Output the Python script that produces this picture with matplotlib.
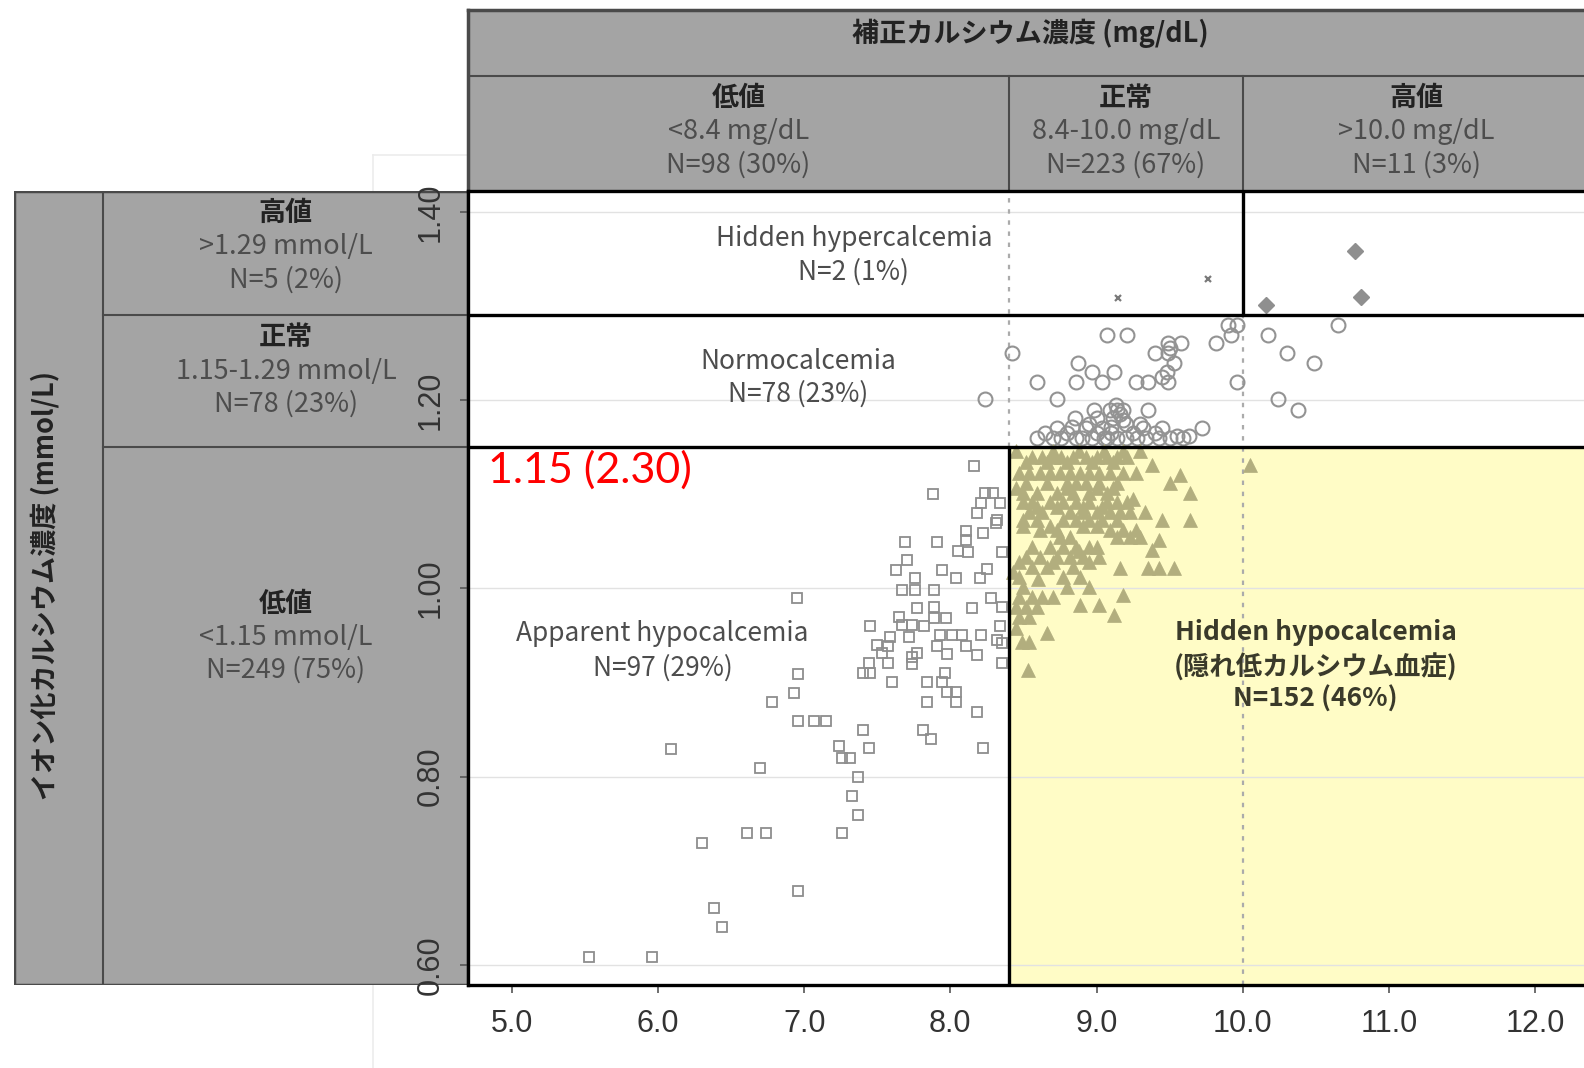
import matplotlib.pyplot as plt
from matplotlib.patches import Rectangle

plt.rcParams['font.family'] = ['Noto Sans CJK JP', 'DejaVu Sans']

# cut-offs: corrected Ca (mg/dL) and ionized Ca (mmol/L)
ca_low, ca_high = 8.4, 10.0
ica_low, ica_high = 1.15, 1.29

x_ticks = [5.0, 6.0, 7.0, 8.0, 9.0, 10.0, 11.0, 12.0]
y_ticks = [0.60, 0.80, 1.00, 1.20, 1.40]

col_titles = ['低値', '正常', '高値']
col_ranges = ['<8.4 mg/dL', '8.4-10.0 mg/dL', '>10.0 mg/dL']
col_counts = ['N=98 (30%)', 'N=223 (67%)', 'N=11 (3%)']
row_titles = ['高値', '正常', '低値']
row_ranges = ['>1.29 mmol/L', '1.15-1.29 mmol/L', '<1.15 mmol/L']
row_counts = ['N=5 (2%)', 'N=78 (23%)', 'N=249 (75%)']

# apparent hypocalcemia (squares)
sq_x = [8.16, 7.88, 8.24, 8.29, 8.21, 8.34, 8.31, 8.22, 8.11, 8.11, 8.12, 7.69, 7.91, 8.35,
        7.63, 7.94, 8.04, 8.25, 8.20, 7.76, 7.67, 7.76, 7.89, 7.77, 7.89, 8.15, 8.35, 7.65,
        7.89, 7.97, 7.74, 7.67, 7.45, 8.34, 7.59, 7.72, 7.93, 8.01, 8.08, 8.21, 7.91, 8.11,
        7.57, 7.53, 7.77, 7.74, 8.18, 8.35, 7.44, 7.57, 7.74, 8.35, 7.40, 7.45, 7.96, 7.84,
        7.94, 7.98, 8.04, 7.84, 8.04, 8.18, 7.40, 7.81, 7.87, 7.24, 7.44, 8.22,
        6.95, 6.96, 6.93, 6.78, 6.96, 7.07, 7.15, 6.09, 7.26, 7.31, 6.70, 7.37, 7.33, 7.37,
        6.61, 6.74, 7.26, 6.30, 6.96, 6.38, 6.44, 5.53, 5.96, 8.32, 8.32,
        7.50, 7.82, 8.05, 8.18, 7.60, 8.28, 7.98, 7.70]
sq_y = [1.130, 1.100, 1.101, 1.101, 1.091, 1.091, 1.069, 1.059, 1.061, 1.051, 1.039, 1.049,
        1.049, 1.039, 1.020, 1.020, 1.011, 1.021, 1.011, 1.011, 0.998, 0.998, 0.998, 0.979,
        0.980, 0.979, 0.980, 0.970, 0.969, 0.969, 0.961, 0.961, 0.960, 0.960, 0.948, 0.948,
        0.950, 0.950, 0.950, 0.950, 0.939, 0.939, 0.939, 0.931, 0.931, 0.927, 0.929, 0.942,
        0.921, 0.921, 0.920, 0.921, 0.910, 0.910, 0.910, 0.901, 0.901, 0.890, 0.890, 0.879,
        0.879, 0.869, 0.850, 0.850, 0.840, 0.833, 0.830, 0.830,
        0.990, 0.909, 0.889, 0.879, 0.859, 0.859, 0.859, 0.829, 0.820, 0.820, 0.809, 0.800,
        0.779, 0.759, 0.740, 0.740, 0.740, 0.729, 0.678, 0.660, 0.640, 0.608, 0.608, 1.073,
        0.945, 0.940, 0.960, 1.040, 1.080, 0.900, 0.990, 0.930, 1.030]

# normocalcemia (circles)
ci_x = [8.24, 8.42, 8.59, 8.73, 8.87, 8.97, 8.86, 9.04, 9.12, 9.07, 9.21, 9.27, 9.35, 9.40,
        9.49, 9.58, 9.49, 9.53, 9.48, 9.49, 9.35, 9.09, 9.14, 9.18, 9.11, 9.18, 8.85, 9.00,
        8.73, 8.93, 9.04, 9.32, 9.72, 8.59, 8.76, 8.86, 8.97, 9.07, 9.14, 9.34, 9.43, 9.50,
        9.59, 9.82, 9.92, 9.90, 9.96, 9.96, 10.17, 10.30, 10.49, 10.24, 10.38, 10.65,
        8.80, 8.90, 9.00, 9.10, 9.20, 9.25, 9.40, 9.55, 9.13, 9.16, 8.95, 9.05, 8.70, 8.65,
        9.30, 9.45, 8.83, 9.10, 9.20, 9.63, 9.28, 8.98, 9.50, 9.45]
ci_y = [1.201, 1.250, 1.219, 1.201, 1.240, 1.230, 1.219, 1.219, 1.230, 1.269, 1.269, 1.219,
        1.219, 1.250, 1.261, 1.261, 1.250, 1.240, 1.230, 1.219, 1.190, 1.190, 1.190, 1.190,
        1.181, 1.179, 1.181, 1.181, 1.170, 1.170, 1.170, 1.170, 1.170, 1.160, 1.160, 1.160,
        1.160, 1.160, 1.160, 1.160, 1.160, 1.160, 1.160, 1.261, 1.269, 1.280, 1.280, 1.219,
        1.269, 1.250, 1.240, 1.201, 1.190, 1.280,
        1.165, 1.160, 1.165, 1.165, 1.160, 1.165, 1.165, 1.162, 1.195, 1.185, 1.175, 1.160,
        1.160, 1.165, 1.175, 1.170, 1.172, 1.172, 1.175, 1.162, 1.160, 1.190, 1.255, 1.225]

# hidden hypocalcemia (triangles)
tri_x = [8.56, 8.63, 8.70, 8.76, 8.84, 8.93, 9.00, 9.07, 9.14, 9.21, 9.38,
         8.47, 8.54, 8.61, 8.68, 8.75, 8.82, 8.89, 8.95, 9.02, 9.09, 9.18, 9.27, 9.57,
         8.52, 8.66, 8.80, 8.86, 8.93, 9.02, 9.14, 9.50,
         8.50, 8.59, 8.73, 8.84, 8.95, 9.07, 9.64,
         8.50, 8.56, 8.68, 8.77, 8.86, 8.95, 9.07, 9.14, 9.21,
         8.54, 8.63, 8.82, 8.91, 9.00, 9.09, 9.16, 9.23, 9.33,
         8.50, 8.59, 8.77, 8.86, 8.95, 9.04, 9.14, 9.45, 9.64,
         8.61, 8.73, 9.09, 9.18, 9.27,
         8.75, 8.82, 9.14, 9.23, 9.30, 9.43,
         8.56, 8.68, 8.77, 8.86, 8.95, 9.00, 9.38,
         8.52, 8.61, 8.73, 8.82, 8.91, 9.02,
         8.56, 8.66, 8.84, 9.16, 9.35, 9.43, 9.53,
         8.47, 8.77, 8.89,
         8.50, 8.80, 8.95,
         8.47, 8.56, 8.63, 8.70, 9.18,
         8.45, 8.52, 8.59, 8.89, 9.02,
         8.47, 8.54, 9.12,
         8.66, 8.49, 8.54, 8.53, 10.05,
         8.52, 8.66, 8.80, 8.97, 9.11,
         8.59, 8.73, 8.91, 9.04,
         8.50, 8.68, 8.91, 9.00,
         8.47, 8.70, 8.95,
         8.45, 8.70, 8.88, 9.05, 9.18, 9.30,
         8.45, 8.80, 9.00, 9.11,
         8.43, 8.45, 8.60, 8.88, 9.25]
tri_y = [1.140] * 10 + [1.131] + \
        [1.123] * 12 + [1.120] + \
        [1.112] * 8 + \
        [1.101] * 7 + \
        [1.092] * 9 + \
        [1.081] * 9 + \
        [1.073] * 9 + \
        [1.062] * 5 + \
        [1.055] * 5 + [1.051] + \
        [1.044] * 6 + [1.041] + \
        [1.033] * 6 + \
        [1.023, 1.023, 1.023, 1.022, 1.022, 1.022, 1.022] + \
        [1.012] * 3 + \
        [1.001] * 3 + \
        [0.991, 0.991, 0.991, 0.991, 0.993] + \
        [0.980, 0.980, 0.980, 0.982, 0.982] + \
        [0.970, 0.970, 0.972] + \
        [0.953, 0.943, 0.943, 0.913, 1.131] + \
        [1.134] * 5 + \
        [1.087] * 4 + \
        [1.066] * 4 + \
        [1.028] * 3 + \
        [1.146] * 6 + \
        [1.107] * 4 + \
        [1.017, 0.958, 1.010, 1.040, 1.095]

# hidden hypercalcemia (x) and high/high (diamonds)
hx_x = [9.15, 9.76]
hx_y = [1.309, 1.329]
dm_x = [10.77, 10.81, 10.16]
dm_y = [1.359, 1.310, 1.301]

W, H = 1584, 1068
fig = plt.figure(figsize=(W / 100, H / 100), dpi=100)


def px_box(x0, y0, x1, y1):
    return [x0 / W, 1 - y1 / H, (x1 - x0) / W, (y1 - y0) / H]


xlim = (4.70, 12.335)
ylim = (0.5785, 1.4223)
head_gray = '#a4a4a4'
edge_gray = '#4a4a4a'
txt_gray = '#4d4d4d'
fs_head = 19.5
fs_in = 19

# faint frame behind the chart
fig.add_artist(plt.Line2D([373 / W, 373 / W], [0, 1 - 155 / H], color='#ececec', lw=1.2, zorder=-1))
fig.add_artist(plt.Line2D([373 / W, 468 / W], [1 - 155 / H, 1 - 155 / H], color='#ececec', lw=1.2,
                          zorder=-1))

# ---- top header (corrected calcium) ----
top = fig.add_axes(px_box(468, 10, 1584, 191))
top.set_xlim(xlim)
top.set_ylim(0, 1)
top.axis('off')
top.add_patch(Rectangle((xlim[0], 0), 10, 1, facecolor=head_gray, edgecolor='none'))
top.plot([xlim[0], xlim[1]], [1, 1], color=edge_gray, lw=2.5, clip_on=False)
top.plot([xlim[0], xlim[0]], [0, 1], color=edge_gray, lw=2.5, clip_on=False)
top.plot([xlim[0], xlim[1]], [0.635, 0.635], color=edge_gray, lw=1.5)
for xv in (ca_low, ca_high):
    top.plot([xv, xv], [0, 0.635], color=edge_gray, lw=1.5)
top.text(8.55, 0.873, '補正カルシウム濃度 (mg/dL)', ha='center', va='center',
         fontsize=fs_head, fontweight='bold', color='#222222')
col_x = [(xlim[0] + ca_low) / 2, (ca_low + ca_high) / 2, 11.19]
for cx, t, r, n in zip(col_x, col_titles, col_ranges, col_counts):
    top.text(cx, 0.514, t, ha='center', va='center', fontsize=fs_head, fontweight='bold',
             color='#222222')
    top.text(cx, 0.331, r, ha='center', va='center', fontsize=fs_head, color=txt_gray)
    top.text(cx, 0.144, n, ha='center', va='center', fontsize=fs_head, color=txt_gray)

# ---- left header (ionized calcium) ----
left = fig.add_axes(px_box(14, 191, 468, 985))
left.set_xlim(0, 1)
left.set_ylim(ylim)
left.axis('off')
left.add_patch(Rectangle((0, ylim[0]), 1, ylim[1] - ylim[0], facecolor=head_gray,
                         edgecolor=edge_gray, lw=2.5))
left.plot([0.196, 0.196], ylim, color=edge_gray, lw=1.5)
for yv in (ica_high, ica_low):
    left.plot([0.196, 1], [yv, yv], color=edge_gray, lw=1.5)
left.text(0.068, 1.0026, 'イオン化カルシウム濃度 (mmol/L)', rotation=90, ha='center', va='center',
          fontsize=19.5, fontweight='bold', color='#222222')
row_y = [(1.399, 1.363, 1.328), (1.267, 1.231, 1.196), (0.983, 0.948, 0.913)]
for (y1, y2, y3), t, r, n in zip(row_y, row_titles, row_ranges, row_counts):
    left.text(0.599, y1, t, ha='center', va='center', fontsize=fs_head, fontweight='bold',
              color='#222222')
    left.text(0.599, y2, r, ha='center', va='center', fontsize=fs_head, color=txt_gray)
    left.text(0.599, y3, n, ha='center', va='center', fontsize=fs_head, color=txt_gray)

# ---- scatter panel ----
ax = fig.add_axes(px_box(468, 191, 1584, 985))
ax.set_zorder(5)
ax.set_xlim(xlim)
ax.set_ylim(ylim)
ax.add_patch(Rectangle((ca_low, ylim[0]), xlim[1] - ca_low, ica_low - ylim[0],
                       facecolor='#fffcc6', edgecolor='none', zorder=0))
for yv in y_ticks:
    ax.axhline(yv, color='#e2e2e2', lw=1.0, zorder=0.5)

dot = dict(color='#ababab', lw=1.6, ls=(0, (2, 3)), zorder=1)
ax.plot([ca_low, ca_low], [ica_low, ylim[1]], **dot)
ax.plot([ca_high, ca_high], [ylim[0], ica_high], **dot)

ax.plot(sq_x, sq_y, 's', ms=7, mfc='none', mec='#8e8e8e', mew=1.3, zorder=3)
ax.plot(ci_x, ci_y, 'o', ms=10, mfc='none', mec='#939393', mew=1.5, zorder=3)
ax.plot(tri_x, tri_y, '^', ms=10, mfc='#b2ae7e', mec='#b2ae7e', mew=0.5, zorder=3)
ax.plot(hx_x, hx_y, 'x', ms=5, mec='#7a7a7a', mew=1.6, zorder=3)
ax.plot(dm_x, dm_y, 'D', ms=8, mfc='#8f8f8f', mec='#8f8f8f', zorder=3)

thick = dict(color='black', lw=2.4, zorder=4, solid_capstyle='butt')
ax.plot(xlim, [ica_high, ica_high], **thick)
ax.plot(xlim, [ica_low, ica_low], **thick)
ax.plot([ca_low, ca_low], [ylim[0], ica_low], **thick)
ax.plot([ca_high, ca_high], [ica_high, ylim[1]], **thick)

for side in ('top', 'left', 'bottom'):
    ax.spines[side].set_linewidth(2.4)
    ax.spines[side].set_color('black')
ax.spines['right'].set_visible(False)

ax.set_xticks(x_ticks)
ax.set_xticklabels([f'{v:.1f}' for v in x_ticks])
ax.set_yticks(y_ticks)
ax.set_yticklabels([f'{v:.2f}' for v in y_ticks], rotation=90, va='center')
ax.tick_params(axis='x', length=6, width=1.2, color='#555555', pad=11, labelsize=22,
               labelcolor='#333333')
ax.tick_params(axis='y', length=6, width=1.2, color='#555555', pad=10, labelsize=22,
               labelcolor='#333333')
for lab in ax.get_xticklabels() + ax.get_yticklabels():
    lab.set_family(['Liberation Sans Narrow', 'Liberation Sans'])

ax.text(7.34, 1.372, 'Hidden hypercalcemia', ha='center', va='center', fontsize=fs_in, color=txt_gray)
ax.text(7.34, 1.336, 'N=2 (1%)', ha='center', va='center', fontsize=fs_in, color=txt_gray)
ax.text(6.96, 1.241, 'Normocalcemia', ha='center', va='center', fontsize=fs_in, color=txt_gray)
ax.text(6.96, 1.206, 'N=78 (23%)', ha='center', va='center', fontsize=fs_in, color=txt_gray)
ax.text(6.03, 0.952, 'Apparent hypocalcemia', ha='center', va='center', fontsize=fs_in,
        color=txt_gray)
ax.text(6.03, 0.915, 'N=97 (29%)', ha='center', va='center', fontsize=fs_in, color=txt_gray)
ax.text(10.50, 0.953, 'Hidden hypocalcemia', ha='center', va='center', fontsize=fs_in,
        fontweight='bold', color='#3a3a2a')
ax.text(10.50, 0.916, '(隠れ低カルシウム血症)', ha='center', va='center', fontsize=fs_in,
        fontweight='bold', color='#3a3a2a')
ax.text(10.50, 0.882, 'N=152 (46%)', ha='center', va='center', fontsize=fs_in,
        fontweight='bold', color='#3a3a2a')
ax.text(4.84, 1.126, '1.15 (2.30)', ha='left', va='center', fontsize=31, color='red',
        family=['Lato', 'DejaVu Sans'])

fig.savefig('out.png', dpi=100)
